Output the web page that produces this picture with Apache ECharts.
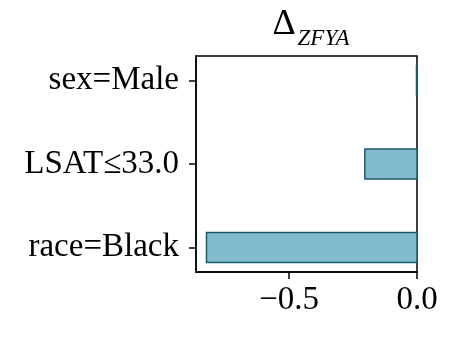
<!DOCTYPE html>
<html>
<head>
<meta charset="utf-8">
<script src="https://cdn.jsdelivr.net/npm/echarts@6/dist/echarts.min.js"></script>
<style>
  html, body { margin: 0; padding: 0; background: #fff; }
  #chart { width: 456px; height: 338px; }
</style>
</head>
<body>
<div id="chart"></div>
<script>
// categories listed top to bottom as in the picture
const categories = ['sex=Male', 'LSAT≤33.0', 'race=Black'];
const deltaValues = [-0.002, -0.204, -0.823];
const xTicks = [-0.5, 0.0];

const FONT = '"Liberation Serif", "DejaVu Serif", serif';
const n = categories.length;
// index 0 at the bottom of the axis
const barData = categories.map((c, i) => [deltaValues[i], n - 1 - i]);

const chart = echarts.init(document.getElementById('chart'), null, { renderer: 'canvas' });

chart.setOption({
  animation: false,
  title: {
    text: '{d|Δ}{s|ZFYA}',
    left: 306,
    top: 2,
    textAlign: 'center',
    textStyle: {
      fontWeight: 'normal',
      rich: {
        d: { fontFamily: FONT, fontSize: 36, fontWeight: 'normal', color: '#000', verticalAlign: 'bottom', padding: [0, 2, 7, 0] },
        s: { fontFamily: FONT, fontSize: 23, fontStyle: 'italic', fontWeight: 'normal', color: '#000', verticalAlign: 'bottom' },
      },
    },
  },
  grid: {
    left: 196,
    right: 39,
    top: 56,
    bottom: 66,
    show: true,
    borderColor: '#000',
    borderWidth: 1.5,
    backgroundColor: 'transparent',
  },
  xAxis: {
    type: 'value',
    min: -0.864,
    max: 0,
    splitLine: { show: false },
    axisLine: { show: true, onZero: false, lineStyle: { color: '#000', width: 1.5 } },
    axisTick: { show: true, length: 7, customValues: xTicks, lineStyle: { color: '#000', width: 1.5 } },
    axisLabel: {
      customValues: xTicks,
      margin: 12,
      fontFamily: FONT,
      fontSize: 33,
      color: '#000',
      formatter: (v) => v.toFixed(1).replace('-', '\u2212'),
    },
  },
  yAxis: {
    type: 'value',
    min: -0.295,
    max: n - 1 + 0.295,
    splitLine: { show: false },
    axisLine: { show: true, onZero: false, lineStyle: { color: '#000', width: 1.5 } },
    axisTick: { show: true, length: 7, customValues: [0, 1, 2], lineStyle: { color: '#000', width: 1.5 } },
    axisLabel: {
      customValues: [0, 1, 2],
      margin: 17,
      fontFamily: FONT,
      fontSize: 33,
      color: '#000',
      formatter: (v) => categories[n - 1 - Math.round(v)],
    },
  },
  series: [
    {
      type: 'custom',
      data: barData,
      encode: { x: 0, y: 1 },
      renderItem: function (params, api) {
        const v = api.value(0);
        const i = api.value(1);
        const p0 = api.coord([0, i]);
        const p1 = api.coord([v, i]);
        const h = api.size([0, 0.36])[1];
        return {
          type: 'rect',
          shape: { x: p1[0], y: p0[1] - h / 2, width: p0[0] - p1[0], height: h },
          style: { fill: '#80bacc', stroke: '#1d5b6c', lineWidth: 1.5 },
        };
      },
    },
  ],
});
</script>
</body>
</html>
